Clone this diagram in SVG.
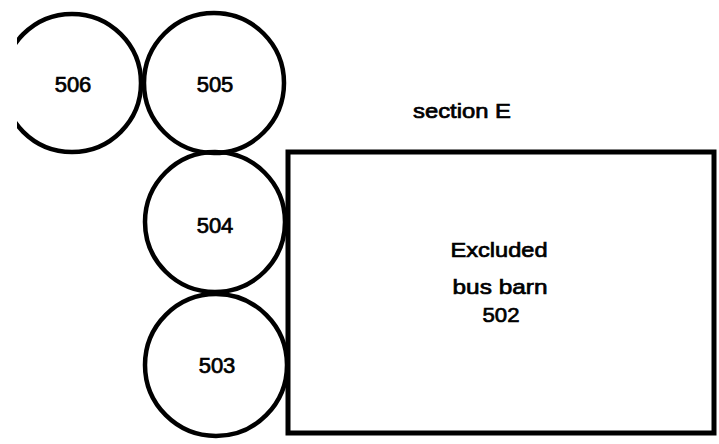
<svg xmlns="http://www.w3.org/2000/svg" width="719" height="444" viewBox="0 0 719 444">
<style>
.c{fill:none;stroke:#000;stroke-width:4.5}
.r{fill:none;stroke:#000;stroke-width:5}
.t{font-family:"Liberation Sans",Arial,sans-serif;font-size:21px;fill:#000;stroke:#000;stroke-width:0.7;text-anchor:middle}
.n{font-size:22px}
</style>
<defs>
<clipPath id="cut"><rect x="17" y="0" width="702" height="444"/></clipPath>
</defs>
<rect width="719" height="444" fill="#fff"/>
<g id="n506">
<circle class="c" cx="72" cy="83" r="69" clip-path="url(#cut)"/>
<text class="t n" x="73" y="92">506</text>
</g>
<g id="n505">
<circle class="c" cx="214" cy="83" r="70"/>
<text class="t n" x="215" y="92">505</text>
</g>
<g id="n504">
<circle class="c" cx="215" cy="222" r="70"/>
<text class="t n" x="215" y="233">504</text>
</g>
<g id="n503">
<circle class="c" cx="216" cy="365" r="71"/>
<text class="t n" x="217" y="373">503</text>
</g>
<g id="n502">
<rect class="r" x="288" y="152" width="426" height="281"/>
<text class="t" x="499" y="257" textLength="97" lengthAdjust="spacingAndGlyphs">Excluded</text>
<text class="t" x="500" y="294" textLength="95" lengthAdjust="spacingAndGlyphs">bus barn</text>
<text class="t" x="501" y="322" textLength="37" lengthAdjust="spacingAndGlyphs">502</text>
</g>
<g id="label">
<text class="t" x="462" y="118" textLength="98" lengthAdjust="spacingAndGlyphs">section E</text>
</g>
<g id="connectors"/>
</svg>
